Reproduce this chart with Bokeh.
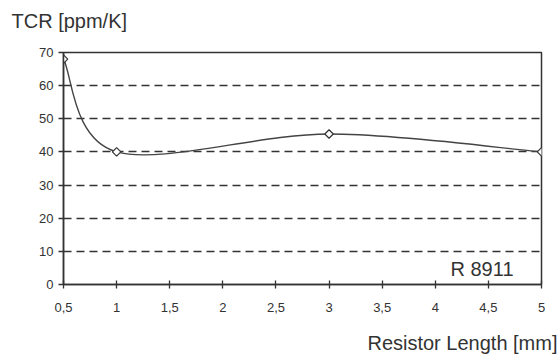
import numpy as np
from bokeh.plotting import figure
from bokeh.layouts import column
from bokeh.models import Range1d, FixedTicker, Label, ColumnDataSource, Title
from bokeh.embed import file_html
from bokeh.resources import INLINE

# ---- data ----
length_mm = [0.5, 1.0, 3.0, 5.0]
tcr_ppm = [68.0, 40.0, 45.4, 40.0]

x_ticks = [0.5, 1.0, 1.5, 2.0, 2.5, 3.0, 3.5, 4.0, 4.5, 5.0]
x_tick_labels = ["0,5", "1", "1,5", "2", "2,5", "3", "3,5", "4", "4,5", "5"]
y_ticks = [0, 10, 20, 30, 40, 50, 60, 70]
y_tick_labels = ["0", "10", "20", "30", "40", "50", "60", "70"]
grid_ticks = [10, 20, 30, 40, 50, 60]

y_title = "TCR [ppm/K]"
x_title = "Resistor Length [mm]"
series_name = "R 8911"

FONT = "Liberation Sans"
INK = "#333333"
W = 558
HEAD_H, MAIN_H, FOOT_H = 44, 276, 40
BASE_FIX = 7  # lift so that the alphabetic baseline lands where intended

# smoothed line (Catmull-Rom style spline as Bezier segments, like a spreadsheet "smoothed line")
x = np.asarray(length_mm, float)
y = np.asarray(tcr_ppm, float)
n = len(x)
xp = np.concatenate([[x[0]], x, [x[-1]]])
yp = np.concatenate([[y[0]], y, [y[-1]]])
seg = ColumnDataSource(dict(
    x0=xp[1:n], y0=yp[1:n],
    x1=xp[2:n + 1], y1=yp[2:n + 1],
    cx0=xp[1:n] + (xp[2:n + 1] - xp[0:n - 1]) / 6.0,
    cy0=yp[1:n] + (yp[2:n + 1] - yp[0:n - 1]) / 6.0,
    cx1=xp[2:n + 1] - (xp[3:n + 2] - xp[1:n]) / 6.0,
    cy1=yp[2:n + 1] - (yp[3:n + 2] - yp[1:n]) / 6.0,
))
pts = ColumnDataSource(dict(x=length_mm, y=tcr_ppm))


def text_strip(height, title, side):
    f = figure(width=W, height=height, x_range=Range1d(0, 1), y_range=Range1d(0, 1),
               output_backend="svg", toolbar_location=None,
               x_axis_location=None, y_axis_location=None, min_border=0)
    f.grid.visible = False
    f.outline_line_color = None
    f.background_fill_color = "white"
    f.border_fill_color = "white"
    f.add_layout(title, side)
    return f


head = text_strip(HEAD_H, Title(text=y_title, align="left", offset=-52, standoff=18,
                                vertical_align="top", text_font=FONT, text_font_size="20px",
                                text_font_style="normal", text_color=INK), "above")
foot = text_strip(FOOT_H, Title(text=x_title, align="right", offset=-16, standoff=14,
                                vertical_align="bottom", text_font=FONT, text_font_size="20px",
                                text_font_style="normal", text_color=INK), "below")

p = figure(width=W, height=MAIN_H, x_range=Range1d(0.5, 5), y_range=Range1d(0, 70),
           output_backend="svg", toolbar_location=None,
           min_border_left=63, min_border_right=17, min_border_top=8, min_border_bottom=36)

p.background_fill_color = "white"
p.border_fill_color = "white"
p.outline_line_color = INK
p.outline_line_width = 1.5
p.outline_line_alpha = 1.0

p.xgrid.visible = False
p.ygrid.ticker = FixedTicker(ticks=grid_ticks)
p.ygrid.grid_line_color = INK
p.ygrid.grid_line_width = 1.3
p.ygrid.grid_line_dash = "8 5"

for ax in (p.xaxis[0], p.yaxis[0]):
    ax.axis_line_color = INK
    ax.axis_line_width = 1.5
    ax.major_tick_line_color = INK
    ax.major_tick_line_width = 1.3
    ax.minor_tick_line_color = None
    ax.major_label_text_font = FONT
    ax.major_label_text_font_size = "13px"
    ax.major_label_text_color = INK

p.xaxis.ticker = FixedTicker(ticks=x_ticks)
p.xaxis.major_label_overrides = {t: s for t, s in zip(x_ticks, x_tick_labels)}
p.xaxis.major_tick_in = 4
p.xaxis.major_tick_out = 4
p.xaxis.major_label_standoff = 14

p.yaxis.ticker = FixedTicker(ticks=y_ticks)
p.yaxis.major_label_overrides = {t: s for t, s in zip(y_ticks, y_tick_labels)}
p.yaxis.major_tick_in = 0
p.yaxis.major_tick_out = 5
p.yaxis.major_label_standoff = 5

p.bezier(x0="x0", y0="y0", x1="x1", y1="y1", cx0="cx0", cy0="cy0", cx1="cx1", cy1="cy1",
         source=seg, line_color="#444444", line_width=1.4)
p.scatter(x="x", y="y", source=pts, marker="square", angle=np.pi / 4, size=6,
          fill_color="white", line_color=INK, line_width=1.2)

p.add_layout(Label(x=450, y=9 + BASE_FIX, x_units="screen", y_units="screen", text=series_name,
                   text_font=FONT, text_font_size="20px", text_color=INK,
                   text_baseline="alphabetic", text_align="right"))

layout = column(head, p, foot, spacing=0)
open("out.html", "w").write(file_html(layout, INLINE))
